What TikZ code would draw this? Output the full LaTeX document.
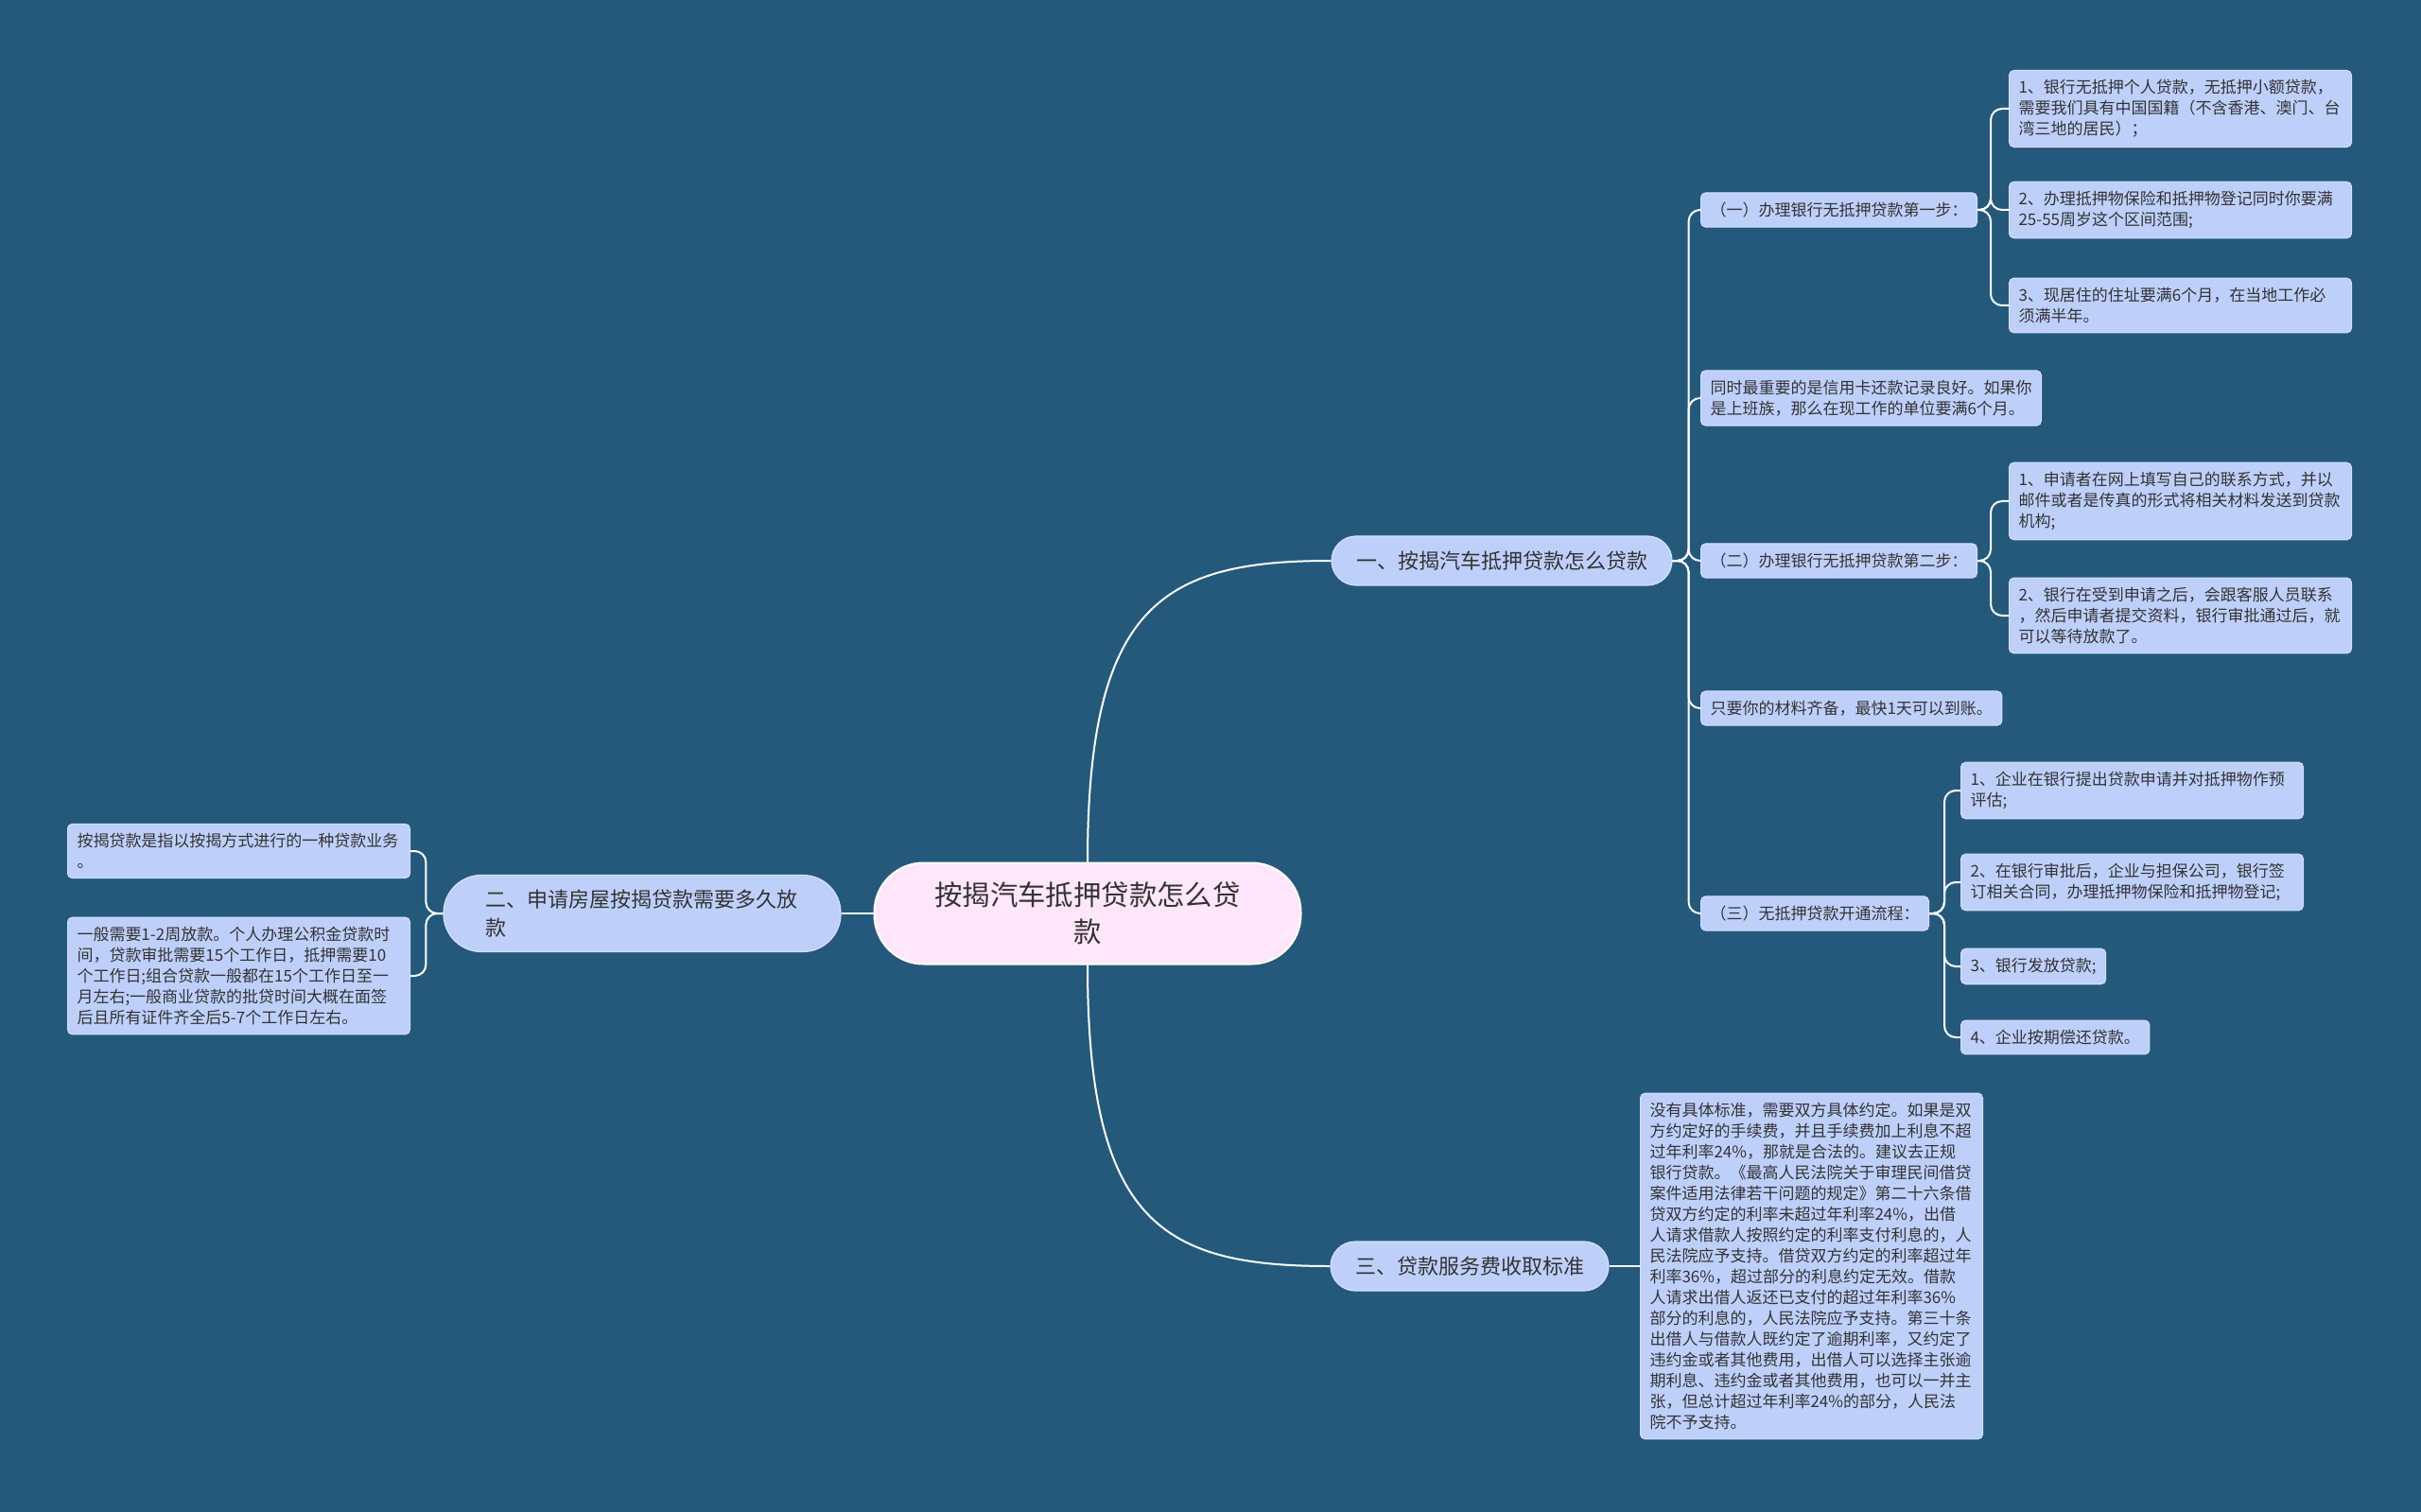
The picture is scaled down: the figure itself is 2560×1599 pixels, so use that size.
\documentclass[tikz,border=0pt]{standalone}
\usepackage{fontspec}
\setmainfont{Noto Sans CJK SC}
\usepackage{tikz}
\definecolor{mbg}{HTML}{24597C}
\definecolor{mnode}{HTML}{BED0FA}
\definecolor{mroot}{HTML}{FFE6FA}
\definecolor{mtext}{HTML}{333333}
\tikzset{
  rootb/.style={fill=mroot,draw=white,line width=1pt,rounded corners=26pt,minimum width=225.5pt,minimum height=53.5pt,align=center,text=mtext,font=\fontsize{14.7pt}{19.6pt}\selectfont},
  topb/.style={fill=mnode,draw=white!35!mnode,line width=0.6pt,rounded corners=13pt,minimum height=26pt,inner xsep=13pt,text=mtext,font=\fontsize{11pt}{14.7pt}\selectfont},
  leafb/.style={fill=mnode,draw=white!35!mnode,line width=0.5pt,rounded corners=2.5pt,inner xsep=5pt,inner ysep=5pt,align=left,text=mtext,font=\fontsize{8.5pt}{11pt}\selectfont},
  wleafb/.style={leafb,text width=171pt},
  lnk/.style={draw=white,line width=1pt,rounded corners=6pt},
}
\begin{document}
\begin{tikzpicture}[x=0.5pt,y=-0.5pt]
  \useasboundingbox (0,0) rectangle (2560,1599);
  \fill[mbg] (0,0) rectangle (2560,1599);

  \node[rootb] (root) at (1150,966) {按揭汽车抵押贷款怎么贷\\款};
  \node[topb] (b1) at (1588,593) {一、按揭汽车抵押贷款怎么贷款};
  \node[topb,rounded corners=20pt,text width=166pt,align=left,inner xsep=22pt,minimum height=40.5pt] (b2) at (679,966) {二、申请房屋按揭贷款需要多久放\\款};
  \node[topb] (b3) at (1554,1339) {三、贷款服务费收取标准};

  \node[leafb,anchor=west] (c1) at (1798,222) {（一）办理银行无抵押贷款第一步：};
  \node[leafb,anchor=west] (c2) at (1798,421) {同时最重要的是信用卡还款记录良好。如果你\\是上班族，那么在现工作的单位要满6个月。};
  \node[leafb,anchor=west] (c3) at (1798,593) {（二）办理银行无抵押贷款第二步：};
  \node[leafb,anchor=west] (c4) at (1798,749) {只要你的材料齐备，最快1天可以到账。};
  \node[leafb,anchor=west] (c5) at (1798,966) {（三）无抵押贷款开通流程：};

  \node[wleafb,anchor=west] (g1) at (2124,115) {1、银行无抵押个人贷款，无抵押小额贷款，\\需要我们具有中国国籍（不含香港、澳门、台\\湾三地的居民）；};
  \node[wleafb,anchor=west] (g2) at (2124,222) {2、办理抵押物保险和抵押物登记同时你要满\\25-55周岁这个区间范围;};
  \node[wleafb,anchor=west] (g3) at (2124,323) {3、现居住的住址要满6个月，在当地工作必\\须满半年。};
  \node[wleafb,anchor=west] (g4) at (2124,530) {1、申请者在网上填写自己的联系方式，并以\\邮件或者是传真的形式将相关材料发送到贷款\\机构;};
  \node[wleafb,anchor=west] (g5) at (2124,651) {2、银行在受到申请之后，会跟客服人员联系\\，然后申请者提交资料，银行审批通过后，就\\可以等待放款了。};
  \node[wleafb,anchor=west] (g6) at (2073,836) {1、企业在银行提出贷款申请并对抵押物作预\\评估;};
  \node[wleafb,anchor=west] (g7) at (2073,933) {2、在银行审批后，企业与担保公司，银行签\\订相关合同，办理抵押物保险和抵押物登记;};
  \node[leafb,anchor=west] (g8) at (2073,1022) {3、银行发放贷款;};
  \node[leafb,anchor=west] (g9) at (2073,1097) {4、企业按期偿还贷款。};

  \node[wleafb,anchor=east] (l1) at (434,900) {按揭贷款是指以按揭方式进行的一种贷款业务\\。};
  \node[wleafb,anchor=east] (l2) at (434,1032) {一般需要1-2周放款。个人办理公积金贷款时\\间，贷款审批需要15个工作日，抵押需要10\\个工作日;组合贷款一般都在15个工作日至一\\月左右;一般商业贷款的批贷时间大概在面签\\后且所有证件齐全后5-7个工作日左右。};

  \node[wleafb,anchor=west] (r1) at (1734,1339) {没有具体标准，需要双方具体约定。如果是双\\方约定好的手续费，并且手续费加上利息不超\\过年利率24\%，那就是合法的。建议去正规\\银行贷款。《最高人民法院关于审理民间借贷\\案件适用法律若干问题的规定》第二十六条借\\贷双方约定的利率未超过年利率24\%，出借\\人请求借款人按照约定的利率支付利息的，人\\民法院应予支持。借贷双方约定的利率超过年\\利率36\%，超过部分的利息约定无效。借款\\人请求出借人返还已支付的超过年利率36\%\\部分的利息的，人民法院应予支持。第三十条\\出借人与借款人既约定了逾期利率，又约定了\\违约金或者其他费用，出借人可以选择主张逾\\期利息、违约金或者其他费用，也可以一并主\\张，但总计超过年利率24\%的部分，人民法\\院不予支持。};

  \draw[lnk] (root.north) .. controls +(0,-273) and +(-177,0) .. (b1.west);
  \draw[lnk] (root.south) .. controls +(0,273) and +(-177,0) .. (b3.west);
  \draw[lnk] (root.west) -- (b2.east);
  \draw[lnk] (b3.east) -- (r1.west);
  \foreach \k in {c1,c2,c3,c4,c5}
    \draw[lnk] (b1.east) -- ++(17,0) |- (\k.west);
  \foreach \k in {g1,g2,g3}
    \draw[lnk] (c1.east) -- ++(14,0) |- (\k.west);
  \foreach \k in {g4,g5}
    \draw[lnk] (c3.east) -- ++(14,0) |- (\k.west);
  \foreach \k in {g6,g7,g8,g9}
    \draw[lnk] (c5.east) -- ++(16,0) |- (\k.west);
  \foreach \k in {l1,l2}
    \draw[lnk] (b2.west) -- ++(-18,0) |- (\k.east);
\end{tikzpicture}
\end{document}
